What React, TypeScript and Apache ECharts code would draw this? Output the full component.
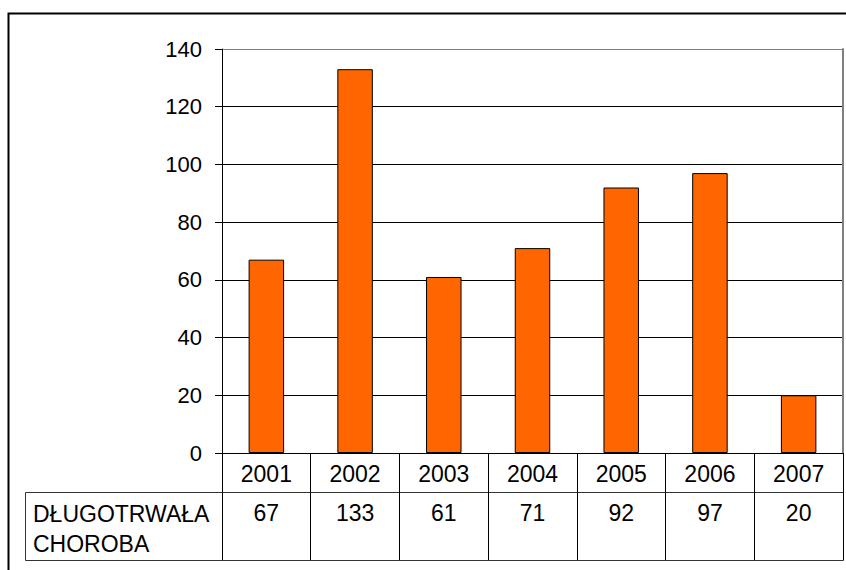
import React, { useEffect, useRef } from "react";
import * as echarts from "echarts";

const years = ["2001", "2002", "2003", "2004", "2005", "2006", "2007"];
const values = [67, 133, 61, 71, 92, 97, 20];
const seriesName = "DŁUGOTRWAŁA\nCHOROBA";
const yTicks = [0, 20, 40, 60, 80, 100, 120, 140];

const FONT = "'Liberation Sans', Arial, Helvetica, sans-serif";

export default function App() {
  const ref = useRef<HTMLDivElement>(null);
  useEffect(() => {
    document.body.style.margin = "0";
    const chart = echarts.init(ref.current!, undefined, { renderer: "svg" });
    const splitColors = yTicks.map((_, i) => (i === yTicks.length - 1 ? "#808080" : "#000000"));
    chart.setOption({
      animation: false,
      backgroundColor: "#ffffff",
      textStyle: { fontFamily: FONT },
      grid: { left: 222, right: 3, top: 49, bottom: 117, containLabel: false },
      xAxis: [
        {
          type: "category",
          data: years,
          position: "bottom",
          axisLine: { show: true, lineStyle: { color: "#000", width: 1 } },
          axisTick: { show: true, length: 107, lineStyle: { color: "#000" } },
          axisLabel: { fontSize: 23, color: "#000", margin: 9, fontFamily: FONT },
          splitLine: { show: false },
        },
        {
          type: "category",
          data: values.map(String),
          position: "bottom",
          offset: 39,
          axisLine: { show: true, lineStyle: { color: "#000", width: 1 } },
          axisTick: { show: false },
          axisLabel: { fontSize: 23, color: "#000", margin: 9, fontFamily: FONT },
          splitLine: { show: false },
        },
      ],
      yAxis: [
        {
          type: "value",
          min: 0,
          max: 140,
          interval: 20,
          axisLine: { show: true, lineStyle: { color: "#000" } },
          axisTick: { show: true, length: 7, lineStyle: { color: "#000" } },
          axisLabel: { fontSize: 22, color: "#000", margin: 20, fontFamily: FONT },
          splitLine: { show: true, lineStyle: { color: splitColors, width: 1 } },
        },
        {
          type: "value",
          min: 0,
          max: 140,
          interval: 20,
          position: "right",
          axisLine: { show: true, lineStyle: { color: "#808080", width: 2 } },
          axisTick: { show: false },
          axisLabel: { show: false },
          splitLine: { show: false },
        },
      ],
      series: [
        {
          type: "bar",
          name: seriesName,
          data: values,
          xAxisIndex: 0,
          yAxisIndex: 0,
          barWidth: "40%",
          itemStyle: { color: "#FF6600", borderColor: "#000", borderWidth: 1 },
        },
      ],
      graphic: [
        {
          type: "rect",
          shape: { x: 8.5, y: 13.5, width: 900, height: 700 },
          style: { fill: "none", stroke: "#000", lineWidth: 2 },
          silent: true,
        },
        {
          type: "rect",
          shape: { x: 25.5, y: 492.5, width: 818, height: 68 },
          style: { fill: "none", stroke: "#333", lineWidth: 1 },
          silent: true,
        },
        {
          type: "text",
          x: 33,
          y: 499,
          style: {
            text: seriesName,
            fontSize: 23,
            lineHeight: 30,
            fontFamily: FONT,
            fill: "#000",
            verticalAlign: "top",
            align: "left",
          },
          silent: true,
        },
      ],
    });
    return () => chart.dispose();
  }, []);
  return (
    <div
      ref={ref}
      style={{ position: "fixed", left: 0, top: 0, width: 846, height: 570, background: "#fff" }}
    />
  );
}
